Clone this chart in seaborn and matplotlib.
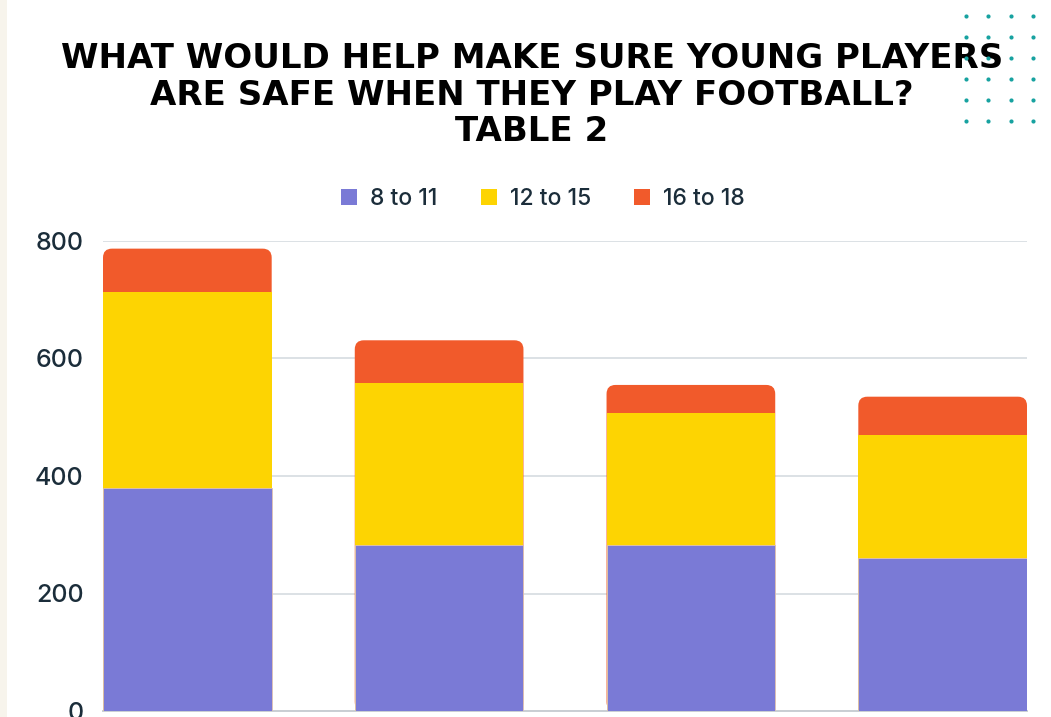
import numpy as np
import pandas as pd
import matplotlib
matplotlib.use("Agg")
import matplotlib.pyplot as plt
from matplotlib.patches import FancyBboxPatch, Rectangle
import seaborn as sns

# Survey answers per option, split by age group
options = ["Option A", "Option B", "Option C", "Option D"]
age_8_11 = [380, 283, 283, 260]
age_12_15 = [333, 276, 224, 210]
age_16_18 = [74, 72, 48, 65]
groups = ["8 to 11", "12 to 15", "16 to 18"]
colors = ["#7A7AD6", "#FDD402", "#F15A2B"]
y_ticks = [0, 200, 400, 600, 800]

sns.set_theme(style="white")
plt.rcParams["font.family"] = ["Inter", "DejaVu Sans"]
text_color = "#1B2D3A"

df = pd.DataFrame({"option": options, "a": age_8_11, "b": age_12_15, "c": age_16_18})
df["top_b"] = df["a"] + df["b"]
df["top_c"] = df["top_b"] + df["c"]

W, H = 1051, 717
fig = plt.figure(figsize=(W / 100, H / 100), dpi=100)
fig.patch.set_facecolor("white")

# thin cream strip on the left edge
fig.add_artist(Rectangle((0, 0), 7 / W, 1, transform=fig.transFigure,
                         facecolor="#F7F4EC", edgecolor="none", zorder=0))

ax = fig.add_axes([103 / W, 6 / H, 924 / W, 470 / H])
bar_w = 0.67
edge = "#E2C3B0"
sns.barplot(data=df, x="option", y="top_c", color=colors[2], width=bar_w,
            saturation=1, ax=ax, edgecolor="none", zorder=2)
sns.barplot(data=df, x="option", y="top_b", color=colors[1], width=bar_w,
            saturation=1, ax=ax, edgecolor="none", zorder=3)
sns.barplot(data=df, x="option", y="a", color=colors[0], width=bar_w,
            saturation=1, ax=ax, edgecolor=edge, linewidth=0.6, zorder=4)

ax.set_xlim(-bar_w / 2, len(options) - 1 + bar_w / 2)
ax.set_ylim(0, 800)

# give the top segments rounded upper corners
px_x = (ax.get_xlim()[1] - ax.get_xlim()[0]) / 924
px_y = 800 / 470
radius_px = 9
for p in list(ax.patches[:len(options)]):
    x0, y0 = p.get_x(), p.get_y()
    w, h = p.get_width(), p.get_height()
    rp = FancyBboxPatch((x0, y0), w, h,
                        boxstyle=f"round,pad=0,rounding_size={radius_px * px_x}",
                        mutation_aspect=px_y / px_x,
                        facecolor=p.get_facecolor(), edgecolor="none", zorder=2)
    p.remove()
    ax.add_patch(rp)

ax.set_yticks(y_ticks)
ax.set_yticklabels([str(v) for v in y_ticks], fontsize=18, color=text_color,
                   fontweight="medium")
ax.tick_params(axis="y", length=0, pad=14)
ax.set_xticks([])
ax.set_xlabel("")
ax.set_ylabel("")
ax.grid(axis="y", color="#DCE1E5", linewidth=1.4, zorder=0)
ax.set_axisbelow(True)
for s in ["top", "right", "left"]:
    ax.spines[s].set_visible(False)
ax.spines["bottom"].set_color("#C9CED3")
ax.spines["bottom"].set_linewidth(1.4)

# legend row
handles = [Rectangle((0, 0), 1, 1, facecolor=c, edgecolor="none") for c in colors]
leg = fig.legend(handles, groups, loc="center", bbox_to_anchor=(543 / W, 1 - 199 / H),
                 ncol=3, frameon=False, fontsize=16.5, handlelength=0.7, handleheight=0.7,
                 handletextpad=0.55, columnspacing=1.9, labelcolor=text_color)
for t in leg.get_texts():
    t.set_fontweight("medium")

fig.text(532 / W, 1 - 42 / H,
         "WHAT WOULD HELP MAKE SURE YOUNG PLAYERS\nARE SAFE WHEN THEY PLAY FOOTBALL?\nTABLE 2",
         ha="center", va="top", multialignment="center", fontsize=24.5,
         fontweight="bold", color="black", linespacing=1.14,
         family=["DejaVu Sans"])

# decorative dot grid in the top-right corner
deco = fig.add_axes([0, 0, 1, 1], zorder=5)
deco.set_xlim(0, W)
deco.set_ylim(H, 0)
deco.axis("off")
gx, gy = np.meshgrid(966 + 22.4 * np.arange(4), 16.3 + 20.9 * np.arange(6))
deco.scatter(gx.ravel(), gy.ravel(), s=9, color="#17A2A0", linewidths=0)

fig.savefig("out.png", dpi=100)
